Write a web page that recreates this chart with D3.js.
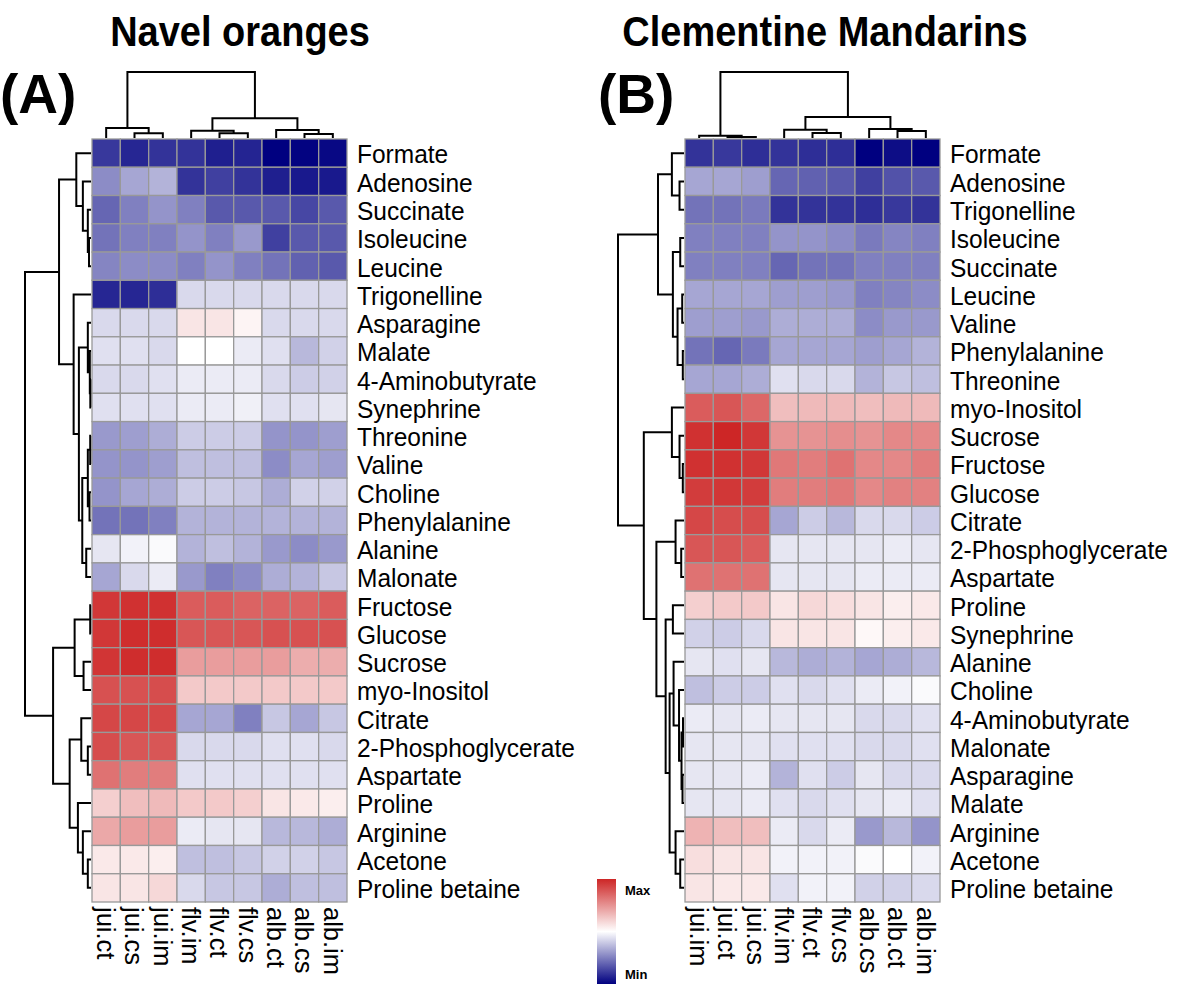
<!DOCTYPE html>
<html><head><meta charset="utf-8">
<script src="https://cdn.jsdelivr.net/npm/d3@7"></script>
<style>html,body{margin:0;padding:0;background:#fff;}svg{display:block;font-family:"Liberation Sans",Arial,sans-serif;}</style>
</head><body><svg id="chart" width="1200" height="986"></svg>
<script>
// ---------------- DATA ----------------
const titles = ["Navel oranges", "Clementine Mandarins"];
const panelTags = ["(A)", "(B)"];
const legendLabels = ["Max", "Min"];

const rowsA = ["Formate","Adenosine","Succinate","Isoleucine","Leucine","Trigonelline","Asparagine","Malate","4-Aminobutyrate","Synephrine","Threonine","Valine","Choline","Phenylalanine","Alanine","Malonate","Fructose","Glucose","Sucrose","myo-Inositol","Citrate","2-Phosphoglycerate","Aspartate","Proline","Arginine","Acetone","Proline betaine"];
const colsA = ["jui.ct","jui.cs","jui.im","flv.im","flv.ct","flv.cs","alb.ct","alb.cs","alb.im"];
const valuesA = [
 [-0.78,-0.85,-0.80,-0.80,-0.88,-0.86,-1.00,-0.99,-0.97],
 [-0.45,-0.35,-0.30,-0.80,-0.75,-0.80,-0.88,-0.90,-0.90],
 [-0.60,-0.50,-0.42,-0.50,-0.65,-0.65,-0.65,-0.72,-0.65],
 [-0.55,-0.50,-0.50,-0.42,-0.50,-0.40,-0.75,-0.65,-0.65],
 [-0.48,-0.45,-0.45,-0.50,-0.42,-0.50,-0.55,-0.62,-0.65],
 [-0.85,-0.85,-0.82,-0.15,-0.15,-0.15,-0.15,-0.15,-0.15],
 [-0.15,-0.15,-0.15,0.12,0.12,0.05,-0.15,-0.15,-0.15],
 [-0.12,-0.12,-0.15,0.00,0.00,-0.08,-0.12,-0.28,-0.18],
 [-0.15,-0.15,-0.12,-0.08,-0.08,-0.08,-0.15,-0.20,-0.18],
 [-0.12,-0.12,-0.12,-0.08,-0.08,-0.06,-0.12,-0.12,-0.10],
 [-0.40,-0.38,-0.32,-0.20,-0.20,-0.20,-0.42,-0.42,-0.38],
 [-0.42,-0.42,-0.38,-0.25,-0.25,-0.25,-0.45,-0.35,-0.38],
 [-0.42,-0.35,-0.32,-0.20,-0.20,-0.22,-0.32,-0.18,-0.18],
 [-0.55,-0.55,-0.50,-0.30,-0.30,-0.30,-0.30,-0.30,-0.30],
 [-0.10,-0.05,-0.02,-0.30,-0.25,-0.30,-0.40,-0.45,-0.40],
 [-0.35,-0.15,-0.08,-0.40,-0.50,-0.45,-0.32,-0.30,-0.22],
 [0.92,0.95,0.95,0.75,0.75,0.72,0.72,0.72,0.75],
 [0.92,0.97,0.97,0.78,0.78,0.78,0.80,0.80,0.80],
 [0.93,0.97,0.97,0.45,0.45,0.45,0.45,0.38,0.38],
 [0.80,0.80,0.82,0.25,0.25,0.25,0.25,0.25,0.25],
 [0.85,0.85,0.85,-0.35,-0.35,-0.50,-0.22,-0.35,-0.22],
 [0.82,0.78,0.78,-0.15,-0.15,-0.15,-0.12,-0.12,-0.15],
 [0.65,0.60,0.60,-0.12,-0.12,-0.12,-0.12,-0.12,-0.12],
 [0.22,0.30,0.32,0.25,0.25,0.22,0.12,0.10,0.08],
 [0.40,0.45,0.45,-0.08,-0.10,-0.10,-0.28,-0.28,-0.32],
 [0.10,0.10,0.08,-0.25,-0.25,-0.22,-0.18,-0.18,-0.22],
 [0.12,0.12,0.18,-0.15,-0.22,-0.22,-0.32,-0.25,-0.25]
];

const rowsB = ["Formate","Adenosine","Trigonelline","Isoleucine","Succinate","Leucine","Valine","Phenylalanine","Threonine","myo-Inositol","Sucrose","Fructose","Glucose","Citrate","2-Phosphoglycerate","Aspartate","Proline","Synephrine","Alanine","Choline","4-Aminobutyrate","Malonate","Asparagine","Malate","Arginine","Acetone","Proline betaine"];
const colsB = ["jui.im","jui.ct","jui.cs","flv.im","flv.ct","flv.cs","alb.cs","alb.ct","alb.im"];
const valuesB = [
 [-0.80,-0.78,-0.82,-0.80,-0.82,-0.82,-1.00,-0.95,-1.00],
 [-0.35,-0.35,-0.38,-0.60,-0.62,-0.65,-0.75,-0.68,-0.65],
 [-0.55,-0.55,-0.52,-0.80,-0.80,-0.80,-0.82,-0.78,-0.80],
 [-0.50,-0.50,-0.50,-0.42,-0.42,-0.45,-0.52,-0.48,-0.50],
 [-0.50,-0.50,-0.50,-0.60,-0.55,-0.55,-0.50,-0.50,-0.50],
 [-0.35,-0.35,-0.35,-0.38,-0.38,-0.40,-0.50,-0.48,-0.45],
 [-0.38,-0.38,-0.40,-0.32,-0.32,-0.32,-0.45,-0.40,-0.40],
 [-0.55,-0.60,-0.52,-0.35,-0.35,-0.35,-0.38,-0.35,-0.30],
 [-0.35,-0.35,-0.32,-0.12,-0.15,-0.15,-0.30,-0.22,-0.25],
 [0.75,0.78,0.70,0.30,0.32,0.32,0.30,0.32,0.32],
 [0.95,1.00,0.92,0.50,0.50,0.52,0.50,0.55,0.55],
 [0.95,0.95,0.92,0.62,0.60,0.65,0.55,0.55,0.60],
 [0.90,0.92,0.90,0.60,0.60,0.62,0.55,0.58,0.58],
 [0.85,0.82,0.82,-0.35,-0.20,-0.28,-0.15,-0.15,-0.20],
 [0.78,0.78,0.75,-0.10,-0.10,-0.10,-0.10,-0.08,-0.10],
 [0.65,0.65,0.65,-0.10,-0.10,-0.10,-0.08,-0.08,-0.08],
 [0.22,0.25,0.25,0.12,0.18,0.15,0.12,0.08,0.10],
 [-0.18,-0.20,-0.15,0.12,0.12,0.12,0.03,0.08,0.10],
 [-0.10,-0.12,-0.10,-0.28,-0.32,-0.30,-0.35,-0.32,-0.28],
 [-0.25,-0.20,-0.20,-0.12,-0.15,-0.12,-0.08,-0.05,-0.02],
 [-0.08,-0.10,-0.08,-0.10,-0.10,-0.10,-0.15,-0.15,-0.12],
 [-0.10,-0.10,-0.10,-0.12,-0.12,-0.12,-0.15,-0.15,-0.12],
 [-0.10,-0.10,-0.08,-0.30,-0.12,-0.20,-0.10,-0.15,-0.15],
 [-0.10,-0.10,-0.08,-0.12,-0.15,-0.12,-0.10,-0.08,-0.12],
 [0.35,0.30,0.30,-0.08,-0.15,-0.08,-0.40,-0.28,-0.42],
 [0.15,0.12,0.12,-0.05,-0.05,-0.05,-0.02,0.00,-0.05],
 [0.12,0.10,0.10,-0.12,-0.05,-0.05,-0.18,-0.18,-0.15]
];

// dendrograms: [mergeHeight, left, right]; leaves are names
const rowTreeA = [66.5,
  [32.2,
    [14.8, "Formate", [8.2, "Adenosine", [3.2, "Succinate", [2, "Isoleucine", "Leucine"]]]],
    [17.5, "Trigonelline",
      [12.2,
        [3.2, "Asparagine", [1.2, "Malate", [0.7, "4-Aminobutyrate", "Synephrine"]]],
        [8.8, [3.2, [0.8, "Threonine", "Valine"], [1.5, "Choline", "Phenylalanine"]], [4.8, "Alanine", "Malonate"]]
      ]
    ]
  ],
  [38.2,
    [16.5, [0.8, "Fructose", "Glucose"], [7.5, "Sucrose", "myo-Inositol"]],
    [21.5, [9.8, "Citrate", [3.2, "2-Phosphoglycerate", "Aspartate"]],
           [13.2, "Proline", [8.2, "Arginine", [3.2, "Acetone", "Proline betaine"]]]]
  ]
];
const colTreeA = [65.7, [10, "jui.ct", [4.7, "jui.cs", "jui.im"]],
  [19.7, [7.3, "flv.im", [4.7, "flv.ct", "flv.cs"]], [8, "alb.ct", [4, "alb.cs", "alb.im"]]]];

const rowTreeB = [66.5,
  [26.2,
    [12.2, "Formate", [4.5, "Adenosine", "Trigonelline"]],
    [11.2, [3.8, "Isoleucine", "Succinate"], [6.5, [1.8, "Leucine", "Valine"], [1.2, "Phenylalanine", "Threonine"]]]
  ],
  [40.5,
    [12.2, "myo-Inositol", [4.5, "Sucrose", [1.2, "Fructose", "Glucose"]]],
    [27.8,
      [8.5, "Citrate", [2.8, "2-Phosphoglycerate", "Aspartate"]],
      [18.5,
        [11.2, "Proline", "Synephrine"],
        [14.5,
          [10.5, "Alanine", [5, "Choline", [2.5, [1, "4-Aminobutyrate", "Malonate"], [1.5, "Asparagine", "Malate"]]]],
          [8.5, "Arginine", [3.8, "Acetone", "Proline betaine"]]
        ]
      ]
    ]
  ]
];
const colTreeB = [66, [2.3, "jui.im", [1, "jui.ct", "jui.cs"]],
  [21, [8.3, "flv.im", [5, "flv.ct", "flv.cs"]], [9, "alb.cs", [7, "alb.ct", "alb.im"]]]];

// ---------------- DRAW ----------------
const svg = d3.select("#chart");
svg.append("rect").attr("width", 1200).attr("height", 986).attr("fill", "#fff");
const color = d3.scaleLinear().domain([-1, 0, 1]).range(["#000080", "#ffffff", "#cd2626"]).interpolate(d3.interpolateRgb);
const FONT = "'Liberation Sans', Arial, sans-serif";

function drawPanel(cfg) {
  const g = svg.append("g");
  const x = d3.scaleBand().domain(cfg.cols).range([cfg.left, cfg.left + 255]);
  const y = d3.scaleBand().domain(cfg.rows).range([139, 902]);
  cfg.values.forEach((row, i) => {
    row.forEach((v, j) => {
      g.append("rect")
        .attr("x", x(cfg.cols[j])).attr("y", y(cfg.rows[i]))
        .attr("width", x.bandwidth()).attr("height", y.bandwidth())
        .attr("fill", color(v)).attr("stroke", "#999999").attr("stroke-width", 1.3);
    });
  });
  g.selectAll(".rl").data(cfg.rows).enter().append("text")
    .attr("transform", d => `translate(${cfg.left + 255 + 10},${y(d) + y.bandwidth() / 2 + 1}) scale(1,1.06)`)
    .attr("dy", "0.36em").attr("font-size", 24.5).attr("font-family", FONT).attr("fill", "#000")
    .text(d => d);
  g.selectAll(".cl").data(cfg.cols).enter().append("text")
    .attr("transform", d => `translate(${x(d) + x.bandwidth() / 2},${907}) rotate(90)`)
    .attr("dy", "0.36em").attr("font-size", 25.5).attr("font-family", FONT).attr("fill", "#000")
    .text(d => d);
  const rowH = d3.scaleLinear().domain([0, cfg.rowTree[0]]).range([cfg.left - 1, cfg.left - 67]);
  const colH = d3.scaleLinear().domain([0, cfg.colTree[0]]).range([138, 72]);
  const path = d3.path();
  function rowNode(n) {
    if (typeof n === "string") return { p: y(n) + y.bandwidth() / 2, h: 0 };
    const a = rowNode(n[1]), b = rowNode(n[2]);
    const hx = rowH(n[0]);
    path.moveTo(rowH(a.h), a.p); path.lineTo(hx, a.p); path.lineTo(hx, b.p); path.lineTo(rowH(b.h), b.p);
    return { p: (a.p + b.p) / 2, h: n[0] };
  }
  rowNode(cfg.rowTree);
  function colNode(n) {
    if (typeof n === "string") return { p: x(n) + x.bandwidth() / 2, h: 0 };
    const a = colNode(n[1]), b = colNode(n[2]);
    const hy = colH(n[0]);
    path.moveTo(a.p, colH(a.h)); path.lineTo(a.p, hy); path.lineTo(b.p, hy); path.lineTo(b.p, colH(b.h));
    return { p: (a.p + b.p) / 2, h: n[0] };
  }
  colNode(cfg.colTree);
  g.append("path").attr("d", path.toString()).attr("fill", "none").attr("stroke", "#000").attr("stroke-width", 2);
  svg.append("text").attr("transform", `translate(${cfg.titleX},46) scale(1,1.1)`).attr("text-anchor", "middle")
    .attr("font-size", 38).attr("font-weight", "bold").attr("font-family", FONT).text(cfg.title);
  svg.append("text").attr("x", cfg.tagX).attr("y", 113)
    .attr("font-size", 55).attr("font-weight", "bold").attr("font-family", FONT).text(cfg.tag);
}

drawPanel({ left: 92, rows: rowsA, cols: colsA, values: valuesA, rowTree: rowTreeA, colTree: colTreeA,
  title: titles[0], titleX: 240, tag: panelTags[0], tagX: 0 });
drawPanel({ left: 685, rows: rowsB, cols: colsB, values: valuesB, rowTree: rowTreeB, colTree: colTreeB,
  title: titles[1], titleX: 825, tag: panelTags[1], tagX: 598 });

// legend
const defs = svg.append("defs");
const grad = defs.append("linearGradient").attr("id", "lg").attr("x1", 0).attr("y1", 1).attr("x2", 0).attr("y2", 0);
d3.range(0, 1.001, 0.1).forEach(t => grad.append("stop").attr("offset", t).attr("stop-color", color(-1 + 2 * t)));
const ly = d3.scaleLinear().domain([-1, 1]).range([984, 879]);
svg.append("rect").attr("x", 597).attr("y", ly(1)).attr("width", 19).attr("height", ly(-1) - ly(1)).attr("fill", "url(#lg)");
svg.append("text").attr("x", 625).attr("y", 895).attr("font-size", 13).attr("font-weight", "bold").attr("font-family", FONT).text(legendLabels[0]);
svg.append("text").attr("x", 625).attr("y", 979).attr("font-size", 13).attr("font-weight", "bold").attr("font-family", FONT).text(legendLabels[1]);
</script></body></html>
